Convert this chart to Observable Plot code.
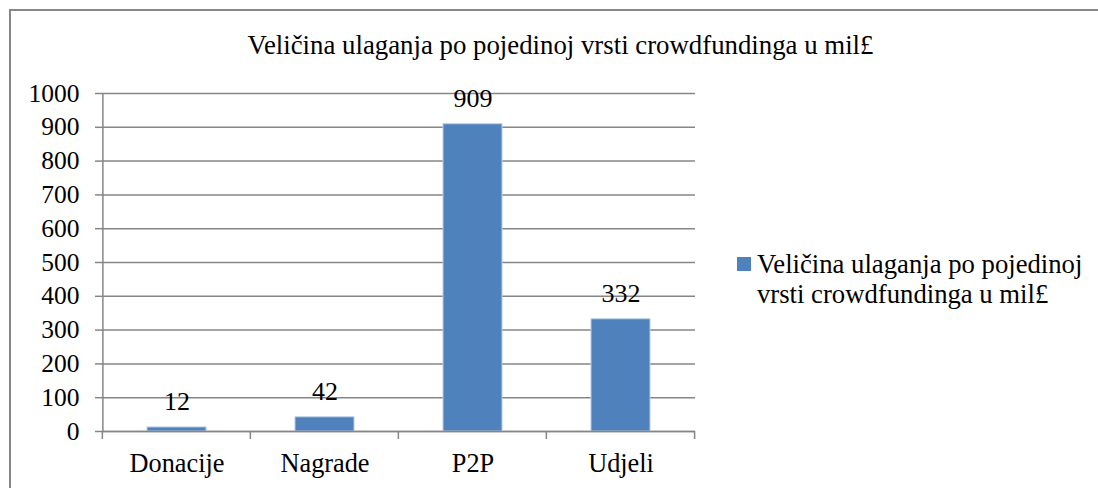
<!DOCTYPE html>
<html>
<head>
<meta charset="utf-8">
<script src="https://cdn.jsdelivr.net/npm/d3@7"></script>
<script src="https://cdn.jsdelivr.net/npm/@observablehq/plot@0.6"></script>
<style>
  html, body { margin: 0; padding: 0; background: #fff; }
  #wrap { position: relative; width: 1098px; height: 488px; overflow: hidden; font-family: 'Liberation Serif', 'Times New Roman', serif; }
  #frame { position: absolute; left: 9px; top: 9px; width: 1100px; height: 500px; border: 2px solid #868686; box-sizing: border-box; }
  #title { position: absolute; left: 0; width: 1121px; top: 31.5px; text-align: center; font-size: 26.8px; line-height: 1; color: #000; white-space: nowrap; font-family: 'Liberation Serif', 'Times New Roman', serif; }
  #legend { position: absolute; left: 737px; top: 249px; font-size: 26.7px; line-height: 30px; color: #000; white-space: nowrap; font-family: 'Liberation Serif', 'Times New Roman', serif; }
  #legend .sw { display: inline-block; width: 14px; height: 14px; background: #4F81BD; margin-right: 6px; vertical-align: 2px; }
  #legend .l2 { padding-left: 20px; }
  #chart { position: absolute; left: 0; top: 0; }
  #chart svg, #chart svg text { font-family: 'Liberation Serif', 'Times New Roman', serif !important; }
</style>
</head>
<body>
<div id="wrap">
  <div id="frame"></div>
  <div id="title"></div>
  <div id="legend"></div>
  <div id="chart"></div>
</div>
<script>
const categories = ["Donacije", "Nagrade", "P2P", "Udjeli"];
const values = [12, 42, 909, 332];
const yTicks = [0, 100, 200, 300, 400, 500, 600, 700, 800, 900, 1000];
const titleText = "Veličina ulaganja po pojedinoj vrsti crowdfundinga u mil£";
const legendLines = ["Veličina ulaganja po pojedinoj", "vrsti crowdfundinga u mil£"];

const data = categories.map((c, i) => ({category: c, value: values[i]}));

const W = 1098, H = 488;
const mL = 102, mR = 403, mT = 93, mB = 57;
const padIn = 0.6, padOut = 0.3;
const step = (W - mL - mR) / (categories.length - padIn + 2 * padOut);
const grid = "#868686";
const ff = "Liberation Serif, Times New Roman, serif";

const chart = Plot.plot({
  width: W,
  height: H,
  marginLeft: mL,
  marginRight: mR,
  marginTop: mT,
  marginBottom: mB,
  style: {fontFamily: ff, fontSize: "25.5px", color: "#000", background: "transparent", overflow: "visible"},
  x: {domain: categories, paddingInner: padIn, paddingOuter: padOut, label: null},
  y: {domain: [0, 1000], label: null},
  marks: [
    Plot.gridY(yTicks, {stroke: grid, strokeOpacity: 1, strokeWidth: 1.5}),
    Plot.ruleX([categories[0]], {dx: -step / 2, y1: 0, y2: 1000, stroke: grid, strokeWidth: 1.5}),
    Plot.axisY(yTicks, {tickSize: 7, tickPadding: 16, stroke: grid, strokeWidth: 1.5, fontSize: "25.5px", label: null, tickFormat: d => String(d)}),
    Plot.axisX({tickSize: 0, tickPadding: 21.5, fontSize: "26.3px", label: null}),
    Plot.barY(data, {x: "category", y: "value", fill: "#4F81BD", stroke: "#b9cde5", strokeWidth: 1}),
    Plot.ruleY([0], {stroke: grid, strokeWidth: 1.5}),
    Plot.text(data, {x: "category", y: "value", text: d => String(d.value), dy: -26, lineAnchor: "middle", fontSize: "26px", fill: "#000"})
  ]
});

// x-axis category boundary tick marks (below axis), positioned with the x scale
const xs = chart.scale("x");
const ysc = chart.scale("y");
const bx = categories.map(c => xs.apply(c) + xs.bandwidth / 2 - step / 2);
bx.push(bx[bx.length - 1] + step);
const y0 = ysc.apply(0);
d3.select(chart).append("g").selectAll("line").data(bx).join("line")
  .attr("x1", d => d).attr("x2", d => d)
  .attr("y1", y0).attr("y2", y0 + 8)
  .attr("stroke", grid).attr("stroke-width", 1.5);

document.getElementById("chart").appendChild(chart);
document.getElementById("title").textContent = titleText;
const lg = document.getElementById("legend");
lg.innerHTML = `<div><span class="sw"></span>${legendLines[0]}</div><div class="l2">${legendLines[1]}</div>`;
</script>
</body>
</html>
